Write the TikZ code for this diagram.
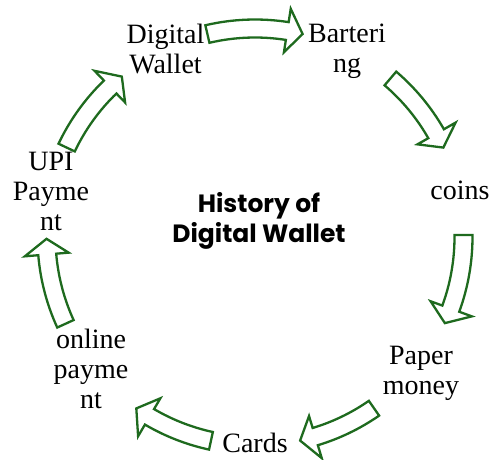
\documentclass[tikz,border=0pt]{standalone}
\usepackage{fontspec}
\setmainfont{Liberation Serif}
\newfontfamily\titlefont{Poppins}
\definecolor{arrowgreen}{RGB}{30,106,30}
\tikzset{
  cycarrow/.style={draw=arrowgreen, fill=white, line width=2.3pt, line join=miter},
  label/.style={inner sep=0pt, anchor=north, align=center, font=\fontsize{28}{30}\selectfont},
  titlelabel/.style={inner sep=0pt, anchor=north, align=center, font=\titlefont\bfseries\fontsize{25}{30}\selectfont}
}
% #1 tail angle, #2 tip angle (clockwise)
\newcommand\cycarr[2]{%
  \pgfmathsetmacro\hb{#2+4.3}%
  \draw[cycarrow] (#1:199.5pt) arc[start angle=#1, end angle=\hb, radius=199.5pt]
    -- (\hb:187pt) -- (#2:208.5pt) -- (\hb:231pt) -- (\hb:217.5pt)
    arc[start angle=\hb, end angle=#1, radius=217.5pt] -- cycle;}
\begin{document}
\begin{tikzpicture}[x=1pt,y=1pt]
\useasboundingbox (-255,-222) rectangle (237,237);
\coordinate (c) at (0,0);
\node[label] (dw) at (-89.5,213.3) {Digital\\Wallet};
\node[label] (bart) at (92,213.3) {Barteri\\ng};
\node[label] (coins) at (205,56) {coins};
\node[label] (paper) at (166,-108.5) {Paper\\money};
\node[label] (cards) at (0,-195.5) {Cards};
\node[label] (online) at (-164,-92) {online\\payme\\nt};
\node[label] (upi) at (-204,85.5) {UPI\\Payme\\nt};
\node[titlelabel] (title) at (4,45) {History of\\Digital Wallet};
\cycarr{103.2}{76.8}
\cycarr{49.5}{25.4}
\cycarr{0.55}{-24.4}
\cycarr{-55.2}{-77.5}
\cycarr{-102.2}{-124.7}
\cycarr{-155.4}{-179.5}
\cycarr{154.6}{129.7}
\end{tikzpicture}
\end{document}
